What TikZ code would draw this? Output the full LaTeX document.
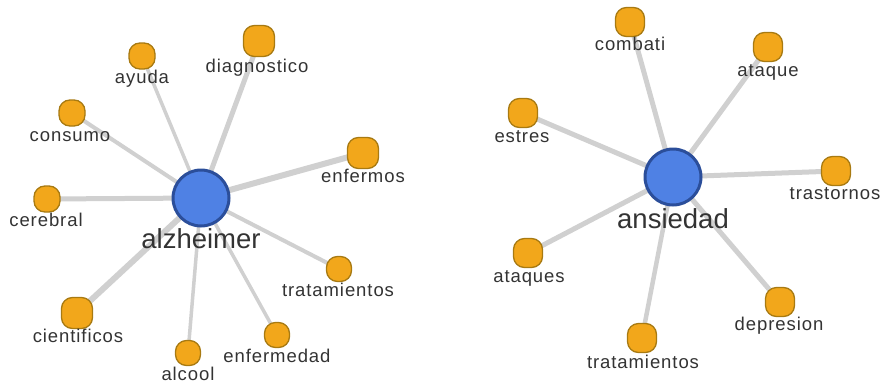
\documentclass[tikz,border=0pt]{standalone}
\usepackage{fontspec}
\setmainfont{Liberation Sans}
\newfontfamily\lblfont[LetterSpace=5]{Liberation Sans}
\usetikzlibrary{backgrounds}
\definecolor{leaffill}{HTML}{F2A71B}
\definecolor{leafdraw}{HTML}{A87A12}
\definecolor{hubfill}{HTML}{4F81E4}
\definecolor{hubdraw}{HTML}{2B4E9A}
\definecolor{edgegray}{HTML}{D0D0D0}
\definecolor{txtgray}{HTML}{333333}
\tikzset{
  leaf/.style={draw=leafdraw, fill=leaffill, line width=1.3pt, rounded corners=11pt, minimum size=#1, inner sep=0pt},
  leaf/.default=26pt,
  hub/.style={circle, draw=hubdraw, fill=hubfill, line width=3pt, minimum size=56pt, inner sep=0pt},
  lbl/.style={anchor=base, text=txtgray, font=\lblfont\fontsize{18.5}{20}\selectfont, inner sep=0pt},
  hublbl/.style={anchor=base, text=txtgray, font=\fontsize{27.5}{30}\selectfont, inner sep=0pt},
  edge/.style={draw=edgegray, line width=#1},
  edge/.default=4pt
}
\begin{document}
\begin{tikzpicture}[x=1pt,y=-1pt]
\useasboundingbox (0,0) rectangle (883,383);
% left graph
\node[hub] (alz) at (201,198) {};
\node[leaf=26pt] (ayuda) at (142,56) {};
\node[leaf=31pt] (diag) at (259,41) {};
\node[leaf=26pt] (cons) at (72,113) {};
\node[leaf=31pt] (enfs) at (363,153) {};
\node[leaf=26pt] (cere) at (47,199) {};
\node[leaf=31pt] (cien) at (77,313) {};
\node[leaf=25pt] (alco) at (188,353) {};
\node[leaf=25pt] (enfd) at (277,335) {};
\node[leaf=25pt] (trat) at (339,269) {};
% right graph
\node[hub] (ans) at (673,177) {};
\node[leaf=29pt] (comb) at (630,22) {};
\node[leaf=29pt] (ataq) at (768,47) {};
\node[leaf=29pt] (estr) at (523,113) {};
\node[leaf=29pt] (tras) at (836,171) {};
\node[leaf=29pt] (ataqs) at (528,253) {};
\node[leaf=29pt] (trat2) at (642,338) {};
\node[leaf=29pt] (depr) at (780,302) {};
% labels
\node[hublbl] (lalz) at (201,248) {alzheimer};
\node[lbl] (layuda) at (142,83) {ayuda};
\node[lbl] (ldiag) at (257,72) {diagnostico};
\node[lbl] (lcons) at (70,141) {consumo};
\node[lbl] (lenfs) at (363,182) {enfermos};
\node[lbl] (lcere) at (46,226) {cerebral};
\node[lbl] (ltrat) at (338,296) {tratamientos};
\node[lbl] (lcien) at (78,342) {cientificos};
\node[lbl] (lenfd) at (277,362) {enfermedad};
\node[lbl] (lalco) at (188,380) {alcool};
\node[hublbl] (lans) at (673,228) {ansiedad};
\node[lbl] (lcomb) at (630,50) {combati};
\node[lbl] (lataq) at (768,76) {ataque};
\node[lbl] (lestr) at (522,142) {estres};
\node[lbl] (ltras) at (835,199) {trastornos};
\node[lbl] (lataqs) at (529,282) {ataques};
\node[lbl] (ldepr) at (779,330) {depresion};
\node[lbl] (ltrat2) at (643,368) {tratamientos};
\begin{pgfonlayer}{background}
\draw[edge=3.5pt] (alz.center) -- (ayuda.center);
\draw[edge=5pt] (alz.center) -- (diag.center);
\draw[edge=4pt] (alz.center) -- (cons.center);
\draw[edge=6pt] (alz.center) -- (enfs.center);
\draw[edge=5pt] (alz.center) -- (cere.center);
\draw[edge=6pt] (alz.center) -- (cien.center);
\draw[edge=3.5pt] (alz.center) -- (alco.center);
\draw[edge=3.5pt] (alz.center) -- (enfd.center);
\draw[edge=4pt] (alz.center) -- (trat.center);
\draw[edge=5pt] (ans.center) -- (comb.center);
\draw[edge=5pt] (ans.center) -- (ataq.center);
\draw[edge=5pt] (ans.center) -- (estr.center);
\draw[edge=5pt] (ans.center) -- (tras.center);
\draw[edge=5pt] (ans.center) -- (ataqs.center);
\draw[edge=4.5pt] (ans.center) -- (trat2.center);
\draw[edge=5pt] (ans.center) -- (depr.center);
\end{pgfonlayer}
\end{tikzpicture}
\end{document}
